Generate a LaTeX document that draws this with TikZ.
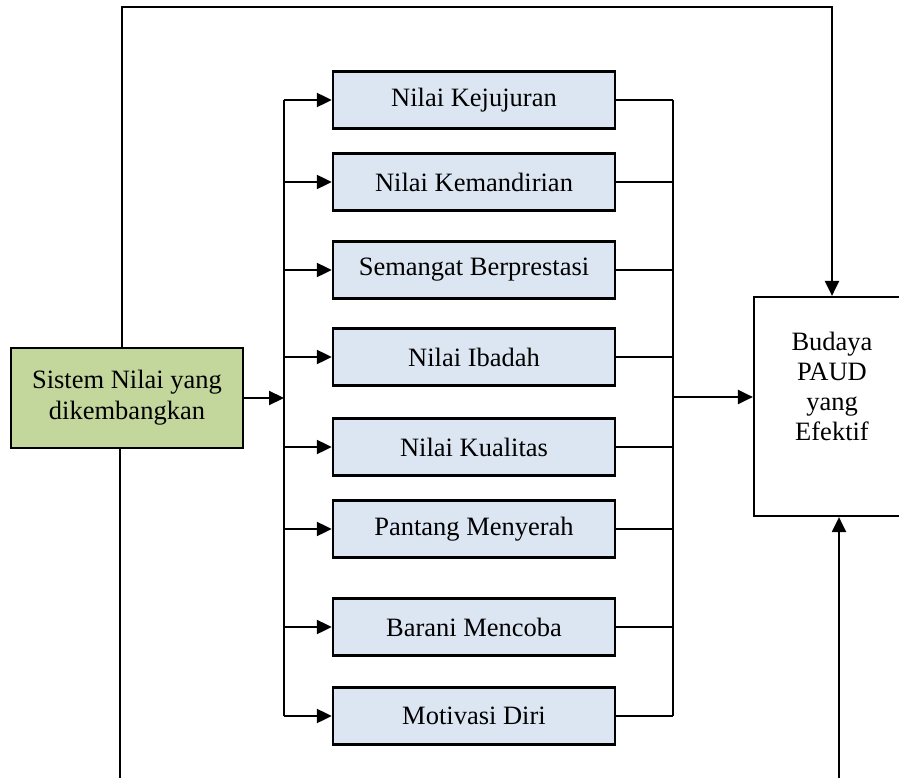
\documentclass[tikz,border=0pt]{standalone}
\usepackage{fontspec}
\setmainfont{Liberation Serif}
\usetikzlibrary{arrows.meta}
\definecolor{greenfill}{HTML}{C3D69B}
\definecolor{bluefill}{HTML}{DCE6F2}
\begin{document}
\begin{tikzpicture}[x=1pt,y=-1pt,
  line width=2.2pt,
  arr/.style={-{Triangle[length=15pt,width=14pt]}},
  valbox/.style={draw=black,line width=2.4pt,fill=bluefill,minimum width=282pt,minimum height=57pt,inner sep=0pt,font=\fontsize{26.5}{30}\selectfont},
  srcbox/.style={draw=black,line width=2.4pt,fill=greenfill,minimum width=232pt,minimum height=100pt,inner sep=0pt,align=center,font=\fontsize{26.5}{31}\selectfont},
  tgtbox/.style={draw=black,line width=2.2pt,fill=white,minimum width=156pt,minimum height=219pt,inner sep=0pt,align=center}]
\useasboundingbox (0,0) rectangle (899,778);
\clip (0,0) rectangle (899,778);
% nodes
\node[srcbox] (sis) at (127,398) {Sistem Nilai yang\\dikembangkan};
\node[tgtbox] (bud) at (832,406.5) {};
\node[font=\fontsize{26.5}{30}\selectfont,align=center] (budt) at (832,386) {Budaya\\PAUD\\yang\\Efektif};
\node[valbox] (b1) at (474,100) {Nilai Kejujuran};
\node[valbox] (b2) at (474,182) {Nilai Kemandirian};
\node[valbox] (b3) at (474,270) {Semangat Berprestasi};
\node[valbox] (b4) at (474,357) {Nilai Ibadah};
\node[valbox] (b5) at (474,447) {Nilai Kualitas};
\node[valbox] (b6) at (474,529) {Pantang Menyerah};
\node[valbox] (b7) at (474,627) {Barani Mencoba};
\node[valbox] (b8) at (474,716) {Motivasi Diri};
% coordinates
\coordinate (bx) at (284,398);
\coordinate (cx) at (673,397);
\coordinate (tl) at (122,7);
\coordinate (tr) at (832,7);
\coordinate (bl) at (120,778);
\coordinate (br) at (839,778);
% top loop
\draw[arr] (sis.north -| tl) -- (tl) -- (tr) -- (bud.north -| tr);
% bottom lines
\draw (sis.south -| bl) -- (bl);
\draw[arr] (br) -- (bud.south -| br);
% source to branch
\draw[arr] (sis.east) -- (bx);
\draw (b1.west -| bx) -- (b8.west -| bx);
\foreach \b in {b1,b2,b3,b4,b5,b6,b7,b8}{
  \draw[arr] (\b.west -| bx) -- (\b.west);
  \draw (\b.east) -- (\b.east -| cx);
}
\draw (b1.east -| cx) -- (b8.east -| cx);
\draw[arr] (cx) -- (cx -| bud.west);
\end{tikzpicture}
\end{document}
